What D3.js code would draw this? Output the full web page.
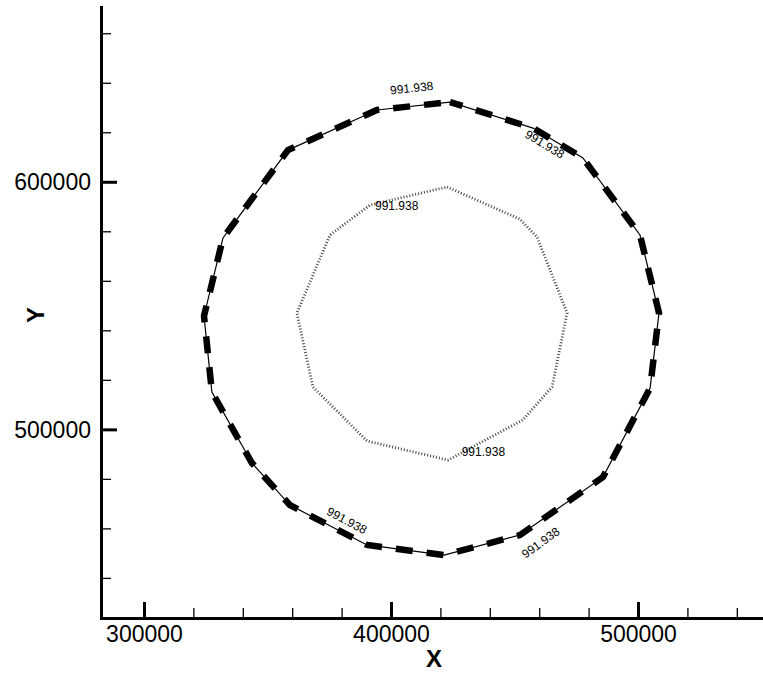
<!DOCTYPE html>
<html>
<head>
<meta charset="utf-8">
<script src="https://cdn.jsdelivr.net/npm/d3@7"></script>
<style>
  html, body { margin: 0; padding: 0; background: #fff; }
  svg { display: block; }
  text { font-family: "Liberation Sans", Arial, Helvetica, sans-serif; fill: #000; }
</style>
</head>
<body>
<svg id="chart" width="763" height="673"></svg>
<script>
// Contour level shown on both closed isolines
const contourLevel = 991.938;

// Outer isoline (drawn solid with heavy dashes over it)
const outerX = [423900, 457500, 477700, 500800, 508500, 504900, 485800, 452200, 421500,
                390300, 359100, 343700, 327500, 324300, 332000, 358300, 394300];
const outerY = [632200, 621700, 609600, 578500, 547000, 516700, 480700, 457300, 449200,
                453300, 469400, 486400, 515100, 545800, 577300, 612800, 629000];

// Inner isoline (dotted)
const innerX = [422700, 452200, 459100, 471300, 465200, 453400, 423100, 390300, 368400,
                361900, 375300, 391500];
const innerY = [597900, 584900, 577700, 547000, 517100, 503800, 487600, 495300, 517100,
                547000, 578500, 590600];

// Contour label anchors (data units) and text angle in degrees
const labelX = [408400, 462200, 382100, 460600, 402300, 437400];
const labelY = [637800, 615100, 463100, 454200, 590200, 491000];
const labelAngle = [-6, 31, 28, -36, 0, 0];

// Axis ticks
const xMajor = [300000, 400000, 500000];
const xMinor = d3.range(320000, 550000, 20000).filter(v => !xMajor.includes(v));
const yMajor = [500000, 600000];
const yMinor = d3.range(440000, 670000, 20000).filter(v => !yMajor.includes(v));

const svg = d3.select("#chart");
const x = d3.scaleLinear().domain([282600, 550600]).range([101, 763]);
const y = d3.scaleLinear().domain([423800, 670600]).range([618, 7]);

const fmt = d3.format("d");

// Minor ticks
const gxMinor = svg.append("g").attr("transform", "translate(0,618)")
  .call(d3.axisBottom(x).tickValues(xMinor).tickSize(-10).tickSizeOuter(0).tickFormat(""));
const gyMinor = svg.append("g").attr("transform", "translate(101,0)")
  .call(d3.axisLeft(y).tickValues(yMinor).tickSize(-10).tickSizeOuter(0).tickFormat(""));
[gxMinor, gyMinor].forEach(g => {
  g.select(".domain").remove();
  g.selectAll(".tick line").attr("stroke", "#000").attr("stroke-width", 1.3);
});

// Major ticks with labels
const gx = svg.append("g").attr("transform", "translate(0,618)")
  .call(d3.axisBottom(x).tickValues(xMajor).tickSize(-16).tickSizeOuter(0)
        .tickPadding(8).tickFormat(fmt));
const gy = svg.append("g").attr("transform", "translate(101,0)")
  .call(d3.axisLeft(y).tickValues(yMajor).tickSize(-16).tickSizeOuter(0)
        .tickPadding(10).tickFormat(fmt));
[gx, gy].forEach(g => {
  g.select(".domain").attr("stroke", "#000").attr("stroke-width", 3)
    .attr("stroke-linecap", "square");
  g.selectAll(".tick line").attr("stroke", "#000").attr("stroke-width", 3);
  g.selectAll(".tick text").attr("font-size", 23)
    .attr("font-family", "'Liberation Sans', Arial, sans-serif").attr("fill", "#000");
});
gy.selectAll(".tick text").attr("dy", "0.35em");

// Axis titles
svg.append("text").attr("x", 434).attr("y", 667).attr("text-anchor", "middle")
  .attr("font-size", 24).attr("font-weight", "bold").text("X");
svg.append("text").attr("transform", "translate(44,315) rotate(-90)")
  .attr("text-anchor", "middle").attr("font-size", 24).attr("font-weight", "bold").text("Y");

// Isolines
const line = d3.line().x(d => x(d[0])).y(d => y(d[1])).curve(d3.curveLinearClosed);
const outer = outerX.map((v, i) => [v, outerY[i]]);
const inner = innerX.map((v, i) => [v, innerY[i]]);

svg.append("path").attr("d", line(outer)).attr("fill", "none")
  .attr("stroke", "#000").attr("stroke-width", 1.2);
svg.append("path").attr("d", line(outer)).attr("fill", "none")
  .attr("stroke", "#000").attr("stroke-width", 6.5)
  .attr("stroke-dasharray", "17,14").attr("stroke-dashoffset", 4);

svg.append("path").attr("d", line(inner)).attr("fill", "none")
  .attr("stroke", "#444").attr("stroke-width", 2.8)
  .attr("stroke-dasharray", "1,2");

// Contour labels
svg.append("g").selectAll("text").data(labelX).join("text")
  .attr("transform", (d, i) => `translate(${x(d)},${y(labelY[i])}) rotate(${labelAngle[i]})`)
  .attr("text-anchor", "middle").attr("dominant-baseline", "central")
  .attr("font-size", 12).text(d3.format(".3f")(contourLevel));
</script>
</body>
</html>
